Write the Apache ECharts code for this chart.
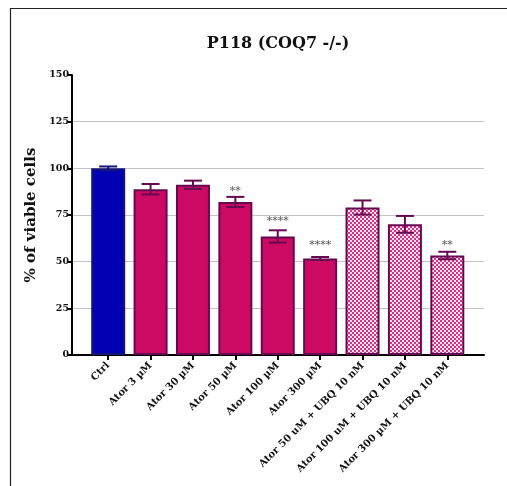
<!DOCTYPE html>
<html>
<head>
<meta charset="utf-8">
<script src="https://cdn.jsdelivr.net/npm/echarts@6/dist/echarts.min.js"></script>
<style>
html,body{margin:0;padding:0;background:#fff;}
#chart{width:507px;height:486px;}
</style>
</head>
<body>
<div id="chart"></div>
<script>
// ---- data ----
const categories = ['Ctrl','Ator 3 µM','Ator 30 µM','Ator 50 µM','Ator 100 µM','Ator 300 µM','Ator 50 uM + UBQ 10 nM','Ator 100 uM + UBQ 10 nM','Ator 300 µM + UBQ 10 nM'];
const means = [100, 88.8, 91.2, 82, 63.5, 51.7, 79, 70, 53.3];
const errors = [1, 2.8, 2.2, 2.7, 3.3, 0.8, 3.8, 4.5, 2];
const stars = ['', '', '', '**', '****', '****', '', '', '**'];
const starY = [0, 0, 0, 88.9, 72.8, 60, 0, 0, 60];
const yTicks = [0, 25, 50, 75, 100, 125, 150];
const groupType = ['ctrl','ator','ator','ator','ator','ator','ubq','ubq','ubq'];

// ---- styles ----
const SERIF = '"DejaVu Serif", "Liberation Serif", serif';
function checker() {
  const c = document.createElement('canvas');
  c.width = 4; c.height = 4;
  const g = c.getContext('2d');
  g.fillStyle = '#fde6f1'; g.fillRect(0,0,4,4);
  g.fillStyle = '#df2f84';
  g.fillRect(0,0,2,2); g.fillRect(2,2,2,2);
  return c;
}
const pattern = {image: checker(), repeat: 'repeat'};
const styleFor = {
  ctrl: {color: '#0000b2', borderColor: '#14147a', err: '#14147a'},
  ator: {color: '#cc0a63', borderColor: '#650a50', err: '#650a50'},
  ubq:  {color: pattern,   borderColor: '#650a50', err: '#650a50'}
};

const chart = echarts.init(document.getElementById('chart'), null, {renderer: 'canvas'});

const barData = means.map((v, i) => ({
  value: v,
  itemStyle: {color: styleFor[groupType[i]].color, borderColor: styleFor[groupType[i]].borderColor, borderWidth: 2}
}));
const errData = means.map((v, i) => [i, v, errors[i], starY[i]]);

const option = {
  animation: false,
  backgroundColor: '#fff',
  graphic: [
    {type: 'rect', shape: {x: 10.5, y: 8.5, width: 700, height: 700}, style: {fill: 'none', stroke: '#222', lineWidth: 1.2}, silent: true, z: -10},
    {type: 'text', x: 278, y: 44, style: {text: 'P118 (COQ7 -/-)', font: 'bold 16px ' + SERIF, fill: '#111', textAlign: 'center', textVerticalAlign: 'middle'}}
  ],
  grid: [
    {left: 72, right: 23, top: 75, bottom: 131, containLabel: false},
    {left: 87, right: 38.5, top: 75, bottom: 131, containLabel: false}
  ],
  xAxis: [
    {gridIndex: 0, type: 'value', min: 0, max: 1, axisLine: {show: true, lineStyle: {color: '#000', width: 2}},
     axisTick: {show: false}, axisLabel: {show: false}, splitLine: {show: false}},
    {gridIndex: 1, type: 'category', data: categories, boundaryGap: true,
     axisLine: {show: false}, axisTick: {show: true, alignWithLabel: true, length: 5, lineStyle: {color: '#000', width: 2}},
     axisLabel: {rotate: 45, interval: 0, margin: 9, fontFamily: SERIF, fontWeight: 'bold', fontSize: 10, color: '#111'}}
  ],
  yAxis: [
    {gridIndex: 0, type: 'value', min: 0, max: 150, interval: 25,
     name: '% of viable cells', nameLocation: 'middle', nameGap: 31,
     nameTextStyle: {fontFamily: SERIF, fontWeight: 'bold', fontSize: 15, color: '#111'},
     axisLine: {show: true, lineStyle: {color: '#000', width: 2}},
     axisTick: {show: true, length: 5, lineStyle: {color: '#000', width: 2}},
     axisLabel: {margin: 3, fontFamily: SERIF, fontWeight: 'bold', fontSize: 9.5, color: '#111',
                 formatter: v => yTicks.includes(v) ? String(v) : ''},
     splitLine: {show: true, lineStyle: {width: 1, color: ['#c4c4c4','#c4c4c4','#c4c4c4','#c4c4c4','#c4c4c4','#c4c4c4','rgba(0,0,0,0)']}}},
    {gridIndex: 1, type: 'value', min: 0, max: 150, show: false}
  ],
  series: [
    {type: 'bar', xAxisIndex: 1, yAxisIndex: 1, data: barData, barWidth: 34, z: 2},
    {type: 'custom', xAxisIndex: 1, yAxisIndex: 1, data: errData, z: 3,
     renderItem: function (params, api) {
       const i = api.value(0), m = api.value(1), e = api.value(2), sy = api.value(3);
       const hi = api.coord([i, m + e]);
       const lo = api.coord([i, m - e]);
       const col = styleFor[groupType[i]].err;
       const hw = 9;
       const st = {stroke: col, lineWidth: 2};
       const children = [
         {type: 'line', shape: {x1: hi[0], y1: hi[1], x2: lo[0], y2: lo[1]}, style: st},
         {type: 'line', shape: {x1: hi[0]-hw, y1: hi[1], x2: hi[0]+hw, y2: hi[1]}, style: st},
         {type: 'line', shape: {x1: lo[0]-hw, y1: lo[1], x2: lo[0]+hw, y2: lo[1]}, style: st}
       ];
       if (stars[i]) {
         const sp = api.coord([i, sy]);
         children.push({type: 'text', x: sp[0], y: sp[1] + 2, style: {text: stars[i], font: '11px ' + SERIF, fill: '#555', textAlign: 'center', textVerticalAlign: 'middle'}});
       }
       return {type: 'group', children: children};
     }}
  ]
};
chart.setOption(option);
</script>
</body>
</html>
